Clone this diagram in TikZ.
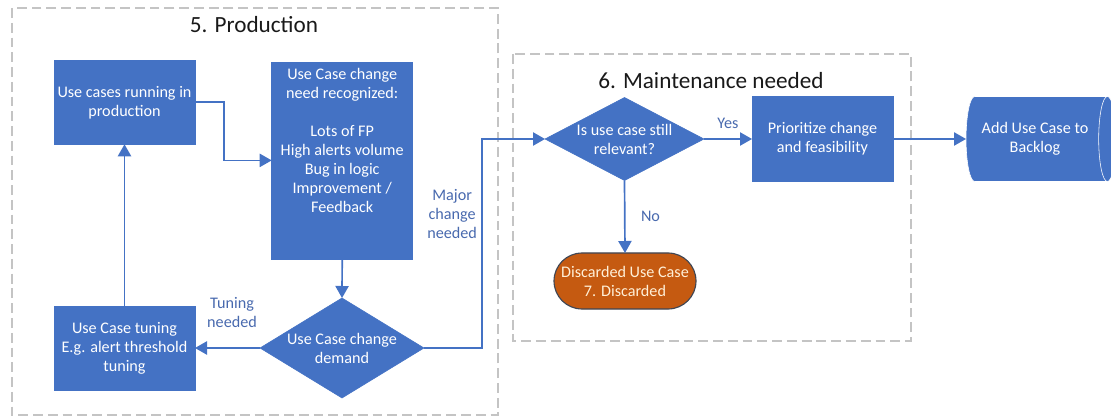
\documentclass[tikz,border=0pt]{standalone}
\usepackage{fontspec}
\setmainfont{Carlito}
\usepackage{xcolor}
\usepackage{tikz}
\usetikzlibrary{positioning,arrows.meta,shapes.geometric}

\definecolor{ublue}{HTML}{4472C4}
\definecolor{lblue}{HTML}{4869AE}
\definecolor{uorange}{HTML}{C55A11}
\definecolor{uedge}{HTML}{3F4654}
\definecolor{frgray}{HTML}{C4C4C4}
\definecolor{dtxt}{HTML}{FFF0D8}

\begin{document}
\begin{tikzpicture}[
  font=\fontsize{11.5}{13.5}\selectfont,
  box/.style={draw=ublue, fill=ublue, text=white, align=center, inner sep=2pt, outer sep=0pt, minimum width=3.525cm, minimum height=2.1cm},
  dia/.style={diamond, draw=ublue, fill=ublue, inner sep=0pt, outer sep=0pt},
  txt/.style={text=white, align=center, inner sep=0pt},
  ter/.style={draw=uedge, line width=0.8pt, fill=uorange, text=dtxt, align=center, rounded corners=0.7cm, minimum width=3.55cm, minimum height=1.4cm, outer sep=0pt},
  el/.style={text=lblue, align=center, inner sep=1pt},
  lk/.style={->, >={Triangle[length=0.3cm, width=0.33cm]}, draw=ublue, line width=1.2pt},
  frm/.style={draw=frgray, line width=1pt, dash pattern=on 7pt off 3.5pt},
  ttl/.style={font=\fontsize{16.5}{20}\selectfont, text=black!90},
]
\useasboundingbox (0,0) rectangle (27.775,-10.4);
% frames
\draw[frm] (0.3,-0.2) rectangle (12.45,-10.375);
\draw[frm] (12.825,-1.35) rectangle (22.775,-8.525);
\node[ttl] (prodttl) at (6.35,-0.625) {5. Production};
\node[ttl] (maintttl) at (17.775,-2.025) {6. Maintenance needed};
% production
\node[box] (run) at (3.1125,-2.5575) {Use cases running in\\production};
\node[box, minimum height=4.925cm] (need) at (8.555,-4.01) {};
\node[txt, anchor=north] (needtxt) at ([yshift=-0.15cm]need.north)
  {Use Case change\\need recognized:\\[13.5pt]Lots of FP\\High alerts volume\\Bug in logic\\Improvement /\\Feedback};
\node[box] (tune) at (3.1125,-8.7) {Use Case tuning\\E.g. alert threshold\\tuning};
\node[dia, minimum width=4.1cm, minimum height=2.5cm] (demand) at (8.55,-8.7) {};
\node[txt] (demandtxt) at (demand) {Use Case change\\demand};
% maintenance
\node[dia, minimum width=3.975cm, minimum height=2.075cm] (relevant) at (15.6125,-3.475) {};
\node[txt] (relevanttxt) at (relevant) {Is use case still\\relevant?};
\node[box, minimum height=2.125cm] (prio) at (20.5625,-3.475) {Prioritize change\\and feasibility};
\node[ter] (disc) at (15.625,-7.025) {Discarded Use Case\\7. Discarded};
\node[cylinder, shape aspect=0.45, draw=white, line width=0.4pt, fill=ublue, text=white, align=center,
  minimum height=3.75cm, minimum width=2.125cm, inner sep=2pt, outer sep=0pt] (backlog) at (25.875,-3.475) {Add Use Case to\\Backlog};
% connectors
\draw[lk] (run.east) -- ++(0.725,0) |- (need.west);
\draw[lk] (need.south) -- (demand.north);
\draw[lk] (demand.west) -- (tune.east) node[el, pos=0.43, above=0.45cm]{Tuning\\needed};
\draw[lk] (tune.north) -- (run.south);
\draw[lk] (demand.east) -- ++(1.45,0) |- (relevant.west) node[el, pos=0.32, left=2pt]{Major\\change\\needed};
\draw[lk] (relevant.east) -- (prio.west) node[el, midway, above=6pt]{Yes};
\draw[lk] (relevant.south) -- (disc.north) node[el, midway, right=0.35cm]{No};
\draw[lk] (prio.east) -- (backlog.west);
\end{tikzpicture}
\end{document}
